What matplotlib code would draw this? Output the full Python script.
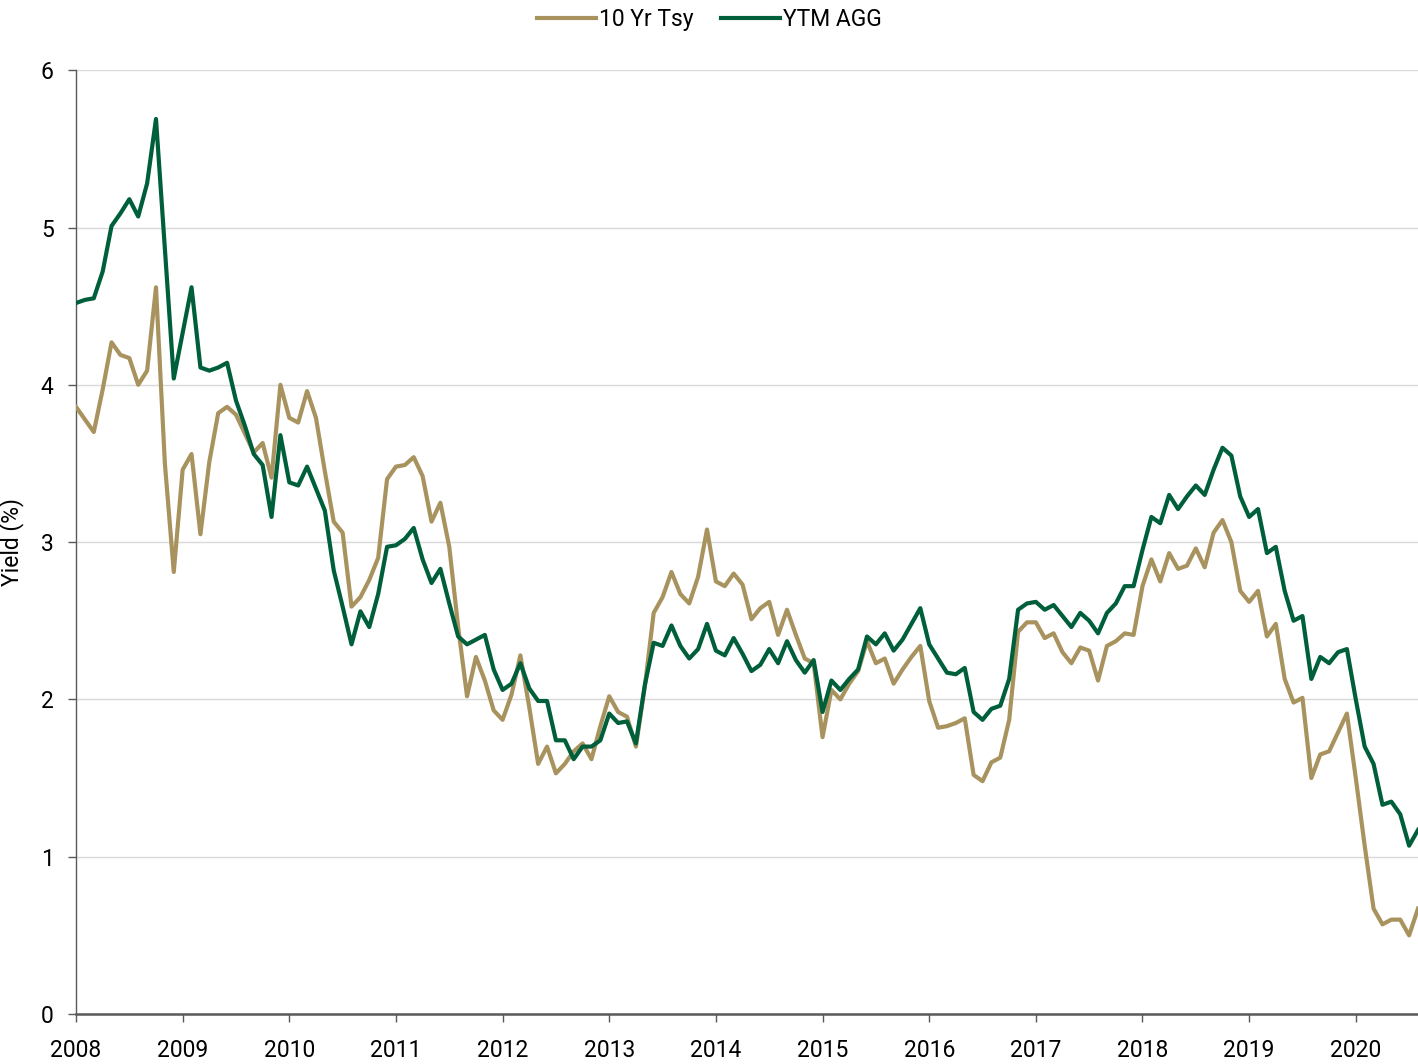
import numpy as np
import matplotlib
matplotlib.use('Agg')
import matplotlib.pyplot as plt

# Rendimientos mensuales, ene 2008 - ago 2020
tsy_10yr = [3.86, 3.78, 3.70, 3.97, 4.27, 4.19, 4.17, 4.00, 4.09, 4.62,
            3.50, 2.81, 3.46, 3.56, 3.05, 3.51, 3.82, 3.86, 3.81, 3.69,
            3.57, 3.63, 3.41, 4.00, 3.79, 3.76, 3.96, 3.79, 3.45, 3.13,
            3.06, 2.59, 2.65, 2.76, 2.90, 3.40, 3.48, 3.49, 3.54, 3.42,
            3.13, 3.25, 2.97, 2.46, 2.02, 2.27, 2.12, 1.93, 1.87, 2.03,
            2.28, 1.95, 1.59, 1.70, 1.53, 1.59, 1.67, 1.72, 1.62, 1.83,
            2.02, 1.92, 1.89, 1.70, 2.08, 2.55, 2.65, 2.81, 2.67, 2.61,
            2.78, 3.08, 2.75, 2.72, 2.80, 2.73, 2.51, 2.58, 2.62, 2.41,
            2.57, 2.41, 2.26, 2.23, 1.76, 2.06, 2.00, 2.10, 2.18, 2.37,
            2.23, 2.26, 2.10, 2.19, 2.27, 2.34, 1.99, 1.82, 1.83, 1.85,
            1.88, 1.52, 1.48, 1.60, 1.63, 1.87, 2.43, 2.49, 2.49, 2.39,
            2.42, 2.30, 2.23, 2.33, 2.31, 2.12, 2.34, 2.37, 2.42, 2.41,
            2.72, 2.89, 2.75, 2.93, 2.83, 2.85, 2.96, 2.84, 3.06, 3.14,
            3.00, 2.69, 2.62, 2.69, 2.40, 2.48, 2.13, 1.98, 2.01, 1.50,
            1.65, 1.67, 1.79, 1.91, 1.50, 1.07, 0.67, 0.57, 0.60, 0.60,
            0.50, 0.67]
ytm_agg = [4.52, 4.54, 4.55, 4.72, 5.01, 5.09, 5.18, 5.07, 5.28, 5.69,
           4.87, 4.04, 4.33, 4.62, 4.11, 4.09, 4.11, 4.14, 3.90, 3.74,
           3.56, 3.49, 3.16, 3.68, 3.38, 3.36, 3.48, 3.34, 3.20, 2.82,
           2.59, 2.35, 2.56, 2.46, 2.67, 2.97, 2.98, 3.02, 3.09, 2.89,
           2.74, 2.83, 2.61, 2.40, 2.35, 2.38, 2.41, 2.19, 2.06, 2.10,
           2.23, 2.07, 1.99, 1.99, 1.74, 1.74, 1.62, 1.70, 1.70, 1.74,
           1.91, 1.85, 1.86, 1.72, 2.09, 2.36, 2.34, 2.47, 2.34, 2.26,
           2.32, 2.48, 2.31, 2.28, 2.39, 2.29, 2.18, 2.22, 2.32, 2.23,
           2.37, 2.25, 2.17, 2.25, 1.92, 2.12, 2.06, 2.13, 2.19, 2.40,
           2.35, 2.42, 2.31, 2.38, 2.48, 2.58, 2.35, 2.26, 2.17, 2.16,
           2.20, 1.92, 1.87, 1.94, 1.96, 2.13, 2.57, 2.61, 2.62, 2.57,
           2.60, 2.53, 2.46, 2.55, 2.50, 2.42, 2.55, 2.61, 2.72, 2.72,
           2.95, 3.16, 3.12, 3.30, 3.21, 3.29, 3.36, 3.30, 3.46, 3.60,
           3.55, 3.29, 3.16, 3.21, 2.93, 2.97, 2.69, 2.50, 2.53, 2.13,
           2.27, 2.23, 2.30, 2.32, 2.00, 1.70, 1.59, 1.33, 1.35, 1.27,
           1.07, 1.17]
years = list(range(2008, 2021))

fechas = 2008 + np.arange(len(tsy_10yr)) / 12.0

color_tsy = '#A8935F'
color_agg = '#005F3B'

plt.rcParams['font.family'] = ['Roboto', 'DejaVu Sans']
plt.rcParams['font.size'] = 16.5

fig = plt.figure(figsize=(14.18, 10.64), dpi=100)
ax = fig.add_axes([0.0536, 0.047, 0.9464, 0.887])

ax.plot(fechas, tsy_10yr, color=color_tsy, lw=3.0, label='10 Yr Tsy', zorder=3)
ax.plot(fechas, ytm_agg, color=color_agg, lw=3.0, label='YTM AGG', zorder=4)

ax.set_xlim(fechas[0], fechas[-1])
ax.set_ylim(0, 6)
ax.set_xticks(years)
ax.set_xticklabels([str(y) for y in years])
ax.set_yticks(range(0, 7))

ax.grid(axis='y', color='#d9d9d9', lw=1.0)
ax.set_axisbelow(True)
for s in ['top', 'right']:
    ax.spines[s].set_visible(False)
ax.spines['left'].set_color('#595959')
ax.spines['left'].set_linewidth(1.0)
ax.spines['bottom'].set_color('#595959')
ax.spines['bottom'].set_linewidth(1.8)
ax.tick_params(axis='both', colors='#595959', labelcolor='black', length=6, width=1.0, direction='out')
ax.tick_params(axis='x', pad=12)
ax.tick_params(axis='y', pad=10)

ax.set_ylabel('Yield (%)')
ax.yaxis.set_label_coords(-0.039, 0.5)

fig.legend(loc='upper center', bbox_to_anchor=(0.5, 1.012), ncol=2, frameon=False,
           handlelength=2.6, handletextpad=0.1, columnspacing=1.2)

fig.savefig('out.png', dpi=100)
